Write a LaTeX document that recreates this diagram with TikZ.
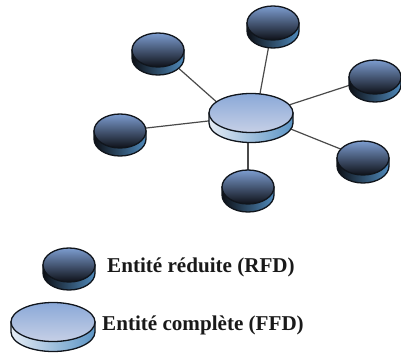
\documentclass[tikz,border=0pt]{standalone}
\usepackage{fontspec}
\setmainfont{Liberation Serif}
\usetikzlibrary{shapes.geometric}
\definecolor{rimline}{HTML}{10151C}
\definecolor{linkgray}{HTML}{4A4A4A}
\definecolor{rfdhi}{HTML}{7C9CCF}
\definecolor{rfdmid}{HTML}{36465F}
\definecolor{rfdlo}{HTML}{0E1118}
\definecolor{rfdsideA}{HTML}{0D1016}
\definecolor{rfdsideB}{HTML}{4F8ABC}
\definecolor{ffdhi}{HTML}{8AA8D8}
\definecolor{ffdmid}{HTML}{A8BCDF}
\definecolor{ffdlo}{HTML}{C6D0E6}
\definecolor{ffdsideA}{HTML}{E4EBF5}
\definecolor{ffdsideB}{HTML}{5C95C5}
\tikzset{
  x=1pt,y=1pt,
  rfdanchor/.style={ellipse,inner sep=0pt,minimum width=52pt,minimum height=34pt},
  ffdanchor/.style={ellipse,inner sep=0pt,minimum width=84pt,minimum height=39pt},
  link/.style={draw=linkgray,line width=1.2pt},
  rim/.style={draw=rimline,line width=1.3pt},
  legendtext/.style={font=\bfseries\fontsize{21.1}{23}\selectfont,anchor=west,inner sep=0pt,text=black!90},
}
% #1 node name, #2 rx, #3 ry, #4 depth, #5 top hi, #6 top mid, #7 top lo, #8 side left, #9 side right
\newcommand{\drawdisc}[9]{%
  \begin{scope}[shift={(#1.center)}]
    \path[rim,left color=#8,right color=#9] (-#2,0) -- ++(0,-#4)
      arc[start angle=180,end angle=360,x radius=#2,y radius=#3] -- ++(0,#4) -- cycle;
    \path[rim,top color=#5,middle color=#6,bottom color=#7] (0,0) ellipse[x radius=#2,y radius=#3];
  \end{scope}}
\newcommand{\smalldisc}[1]{\drawdisc{#1}{26}{17}{8}{rfdhi}{rfdmid}{rfdlo}{rfdsideA}{rfdsideB}}
\newcommand{\bigdisc}[1]{\drawdisc{#1}{42}{19.5}{10}{ffdhi}{ffdmid}{ffdlo}{ffdsideA}{ffdsideB}}
\begin{document}
\begin{tikzpicture}
  \useasboundingbox (0,0) rectangle (401,354);
  \node[ffdanchor] (c) at (251,241) {};
  \node[rfdanchor] (n) at (273,331) {};
  \node[rfdanchor] (nw) at (158,304) {};
  \node[rfdanchor] (ne) at (375,277) {};
  \node[rfdanchor] (w) at (120,223) {};
  \node[rfdanchor] (se) at (363,196) {};
  \node[rfdanchor] (s) at (248,167) {};
  \node[rfdanchor] (lr) at (69,89) {};
  \node[ffdanchor] (lf) at (53,32) {};
  \draw[link] (c.65) -- (n.center);
  \draw[link] (c.162) -- (nw.center);
  \draw[link] (c.12) -- (ne.center);
  \draw[link] (c.191) -- (w.center);
  \draw[link] (c.-22) -- (se.center);
  \draw[link] (s.center) -- (s.center |- c.center);
  \smalldisc{n}\smalldisc{nw}\smalldisc{ne}\smalldisc{w}\smalldisc{se}\smalldisc{s}
  \bigdisc{c}
  \smalldisc{lr}
  \bigdisc{lf}
  \node[legendtext] (tr) at (107,87) {Entité réduite (RFD)};
  \node[legendtext] (tf) at (102,29) {Entité complète (FFD)};
\end{tikzpicture}
\end{document}
